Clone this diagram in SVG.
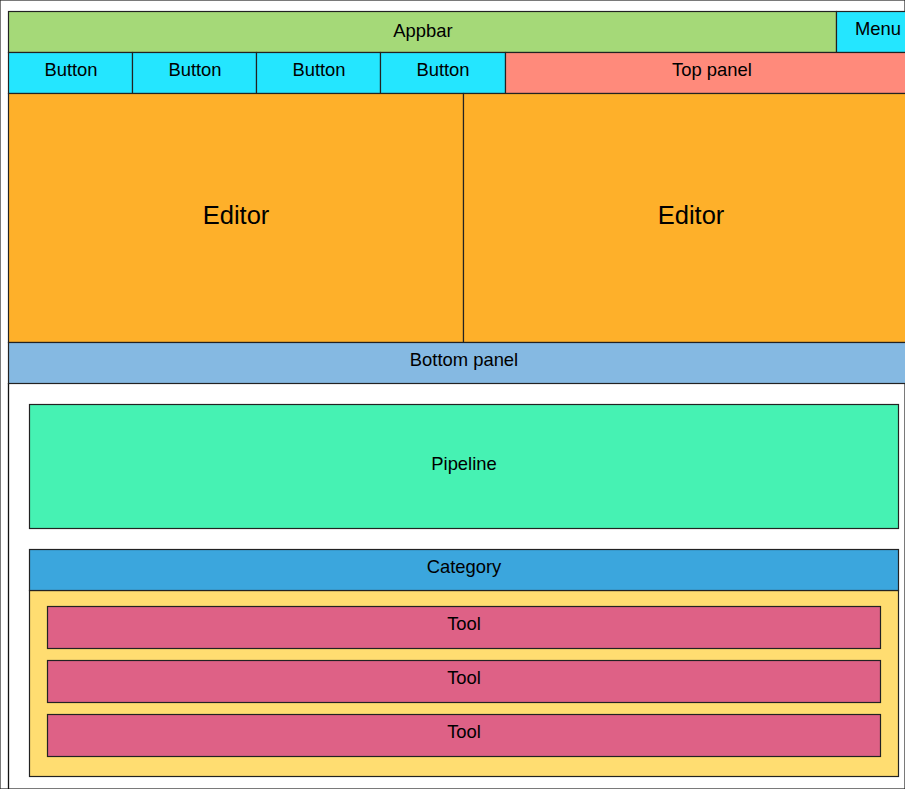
<svg xmlns="http://www.w3.org/2000/svg" width="905" height="789" viewBox="0 0 905 789">
<style>
rect{stroke:#222;stroke-width:1.2}
text{font-family:"Liberation Sans",Arial,sans-serif;font-size:18.4px;fill:#000;text-anchor:middle}
.big{font-size:25.5px}
</style>
<rect x="0" y="0" width="905" height="789" fill="#fff" stroke="none"/>
<line x1="8.5" y1="383" x2="8.5" y2="789" stroke="#111" stroke-width="1.3"/>
<g id="appbar"><rect x="8.5" y="11.5" width="828" height="41" fill="#a5d978"/><text x="423" y="37">Appbar</text></g>
<g id="menu"><rect x="836.5" y="11.5" width="84" height="41" fill="#24e6ff"/><text x="878" y="35">Menu</text></g>
<g id="button1"><rect x="8.5" y="52.5" width="124" height="41" fill="#24e6ff"/><text x="71" y="76">Button</text></g>
<g id="button2"><rect x="132.5" y="52.5" width="124" height="41" fill="#24e6ff"/><text x="195" y="76">Button</text></g>
<g id="button3"><rect x="256.5" y="52.5" width="124" height="41" fill="#24e6ff"/><text x="319" y="76">Button</text></g>
<g id="button4"><rect x="380.5" y="52.5" width="125" height="41" fill="#24e6ff"/><text x="443" y="76">Button</text></g>
<g id="toppanel"><rect x="505.5" y="52.5" width="415" height="41" fill="#ff8a7b"/><text x="712" y="76">Top panel</text></g>
<g id="editor1"><rect x="8.5" y="93.5" width="455" height="249" fill="#feb02a"/><text class="big" x="236" y="224">Editor</text></g>
<g id="editor2"><rect x="463.5" y="93.5" width="457" height="249" fill="#feb02a"/><text class="big" x="691" y="224">Editor</text></g>
<g id="bottompanel"><rect x="8.5" y="342.5" width="912" height="41" fill="#85b9e2"/><text x="464" y="366">Bottom panel</text></g>
<g id="pipeline"><rect x="29.5" y="404.5" width="869" height="124" fill="#46f2b3"/><text x="464" y="470">Pipeline</text></g>
<g id="categorybody"><rect x="29.5" y="590.5" width="869" height="186" fill="#ffdd71"/></g>
<g id="category"><rect x="29.5" y="549.5" width="869" height="41" fill="#3ba6dd"/><text x="464" y="573">Category</text></g>
<g id="tool1"><rect x="47.5" y="606.5" width="833" height="42" fill="#de6186"/><text x="464" y="630">Tool</text></g>
<g id="tool2"><rect x="47.5" y="660.5" width="833" height="42" fill="#de6186"/><text x="464" y="684">Tool</text></g>
<g id="tool3"><rect x="47.5" y="714.5" width="833" height="42" fill="#de6186"/><text x="464" y="738">Tool</text></g>
<g id="connectors"></g>
</svg>
